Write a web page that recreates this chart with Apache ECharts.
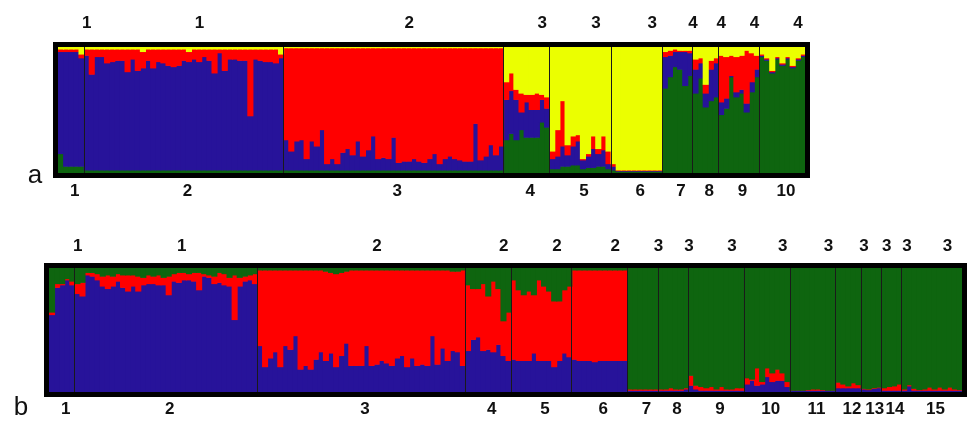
<!DOCTYPE html>
<html>
<head>
<meta charset="utf-8">
<script src="https://cdn.jsdelivr.net/npm/echarts@6/dist/echarts.min.js"></script>
<style>
  html, body { margin: 0; padding: 0; background: #fff; }
  #chart { width: 967px; height: 421px; }
</style>
</head>
<body>
<div id="chart"></div>
<script>
// panel a: individuals per sampling site, site labels, inferred cluster (K=4)
const popSizesA = [5, 39, 43, 9, 12, 10, 6, 5, 8, 9];
const popLabelsA = ['1', '2', '3', '4', '5', '6', '7', '8', '9', '10'];
const clusterLabelsA = ['1', '1', '2', '3', '3', '3', '4', '4', '4', '4'];

// membership (%) per individual, bottom to top: green, blue, red, yellow
const greenA = [
  15, 5, 5, 5, 5,
  2, 2, 2, 2, 2, 2, 2, 2, 2, 2, 2, 2, 2, 2, 2, 2, 2, 2, 2, 2, 2, 2, 2, 2, 2, 2, 2, 2, 2, 2, 2, 2, 2, 2, 2, 2, 2, 2, 2,
  2, 2, 2, 2, 2, 2, 2, 2, 2, 2, 2, 2, 2, 2, 2, 2, 2, 2, 2, 2, 2, 2, 2, 2, 2, 2, 2, 2, 2, 2, 2, 2, 2, 2, 2, 2, 2, 2, 2, 2, 2, 2, 2,
  26, 31, 26, 34, 28, 28, 28, 40, 36,
  3, 3, 5, 5, 6, 6, 3, 4, 4, 5, 5, 3,
  2, 1, 1, 1, 1, 1, 1, 1, 1, 1,
  67, 76, 84, 82, 69, 77,
  63, 75, 52, 57, 60,
  46, 51, 76, 60, 63, 48, 64, 76,
  92, 89, 79, 90, 85, 90, 83, 89, 92
];
const blueA = [
  81, 91, 91, 91, 86,
  91, 76, 90, 90, 85, 86, 87, 87, 78, 88, 79, 81, 87, 81, 86, 85, 83, 82, 83, 87, 86, 88, 86, 90, 87, 77, 93, 79, 88, 88, 87, 87, 43, 88, 87, 86, 86, 85, 89,
  24, 15, 23, 24, 9, 23, 19, 32, 5, 9, 5, 14, 17, 12, 23, 11, 16, 27, 9, 10, 9, 26, 6, 7, 7, 9, 7, 6, 9, 13, 5, 9, 11, 9, 8, 7, 7, 37, 8, 11, 20, 12, 19,
  32, 34, 32, 14, 28, 22, 22, 18, 15,
  8, 10, 16, 9, 15, 19, 7, 9, 15, 10, 13, 4,
  3, 0.5, 0.5, 0.5, 0.5, 0.5, 0.5, 0.5, 0.5, 0.5,
  25, 17, 12, 14, 27, 18,
  19, 12, 11, 25, 27,
  10, 8, 1, 4, 3, 7, 8, 6,
  1, 1, 1, 1, 1, 1, 1, 1, 1
];
const redA = [
  2, 2, 2, 2, 3,
  5, 20, 6, 6, 11, 10, 9, 9, 18, 8, 17, 13, 9, 15, 10, 11, 13, 14, 13, 9, 8, 8, 10, 6, 9, 19, 3, 17, 8, 8, 9, 9, 53, 8, 9, 10, 10, 11, 3,
  73, 82, 74, 73, 88, 74, 78, 65, 92, 88, 92, 83, 80, 85, 74, 86, 81, 70, 88, 87, 88, 71, 91, 90, 90, 88, 90, 91, 88, 84, 92, 88, 86, 88, 89, 90, 90, 60, 89, 86, 77, 85, 78,
  14, 14, 8, 15, 6, 12, 13, 4, 9,
  6, 21, 36, 8, 8, 5, 1, 2, 10, 4, 11, 10,
  2, 0.5, 0.5, 0.5, 0.5, 0.5, 0.5, 0.5, 0.5, 0.5,
  4, 4, 2, 1, 1, 2,
  8, 4, 7, 7, 4,
  37, 33, 16, 28, 27, 42, 23, 11,
  1, 1, 1, 1, 1, 1, 1, 1, 1
];
const yellowA = [
  2, 2, 2, 2, 6,
  2, 2, 2, 2, 2, 2, 2, 2, 2, 2, 2, 4, 2, 2, 2, 2, 2, 2, 2, 2, 4, 2, 2, 2, 2, 2, 2, 2, 2, 2, 2, 2, 2, 2, 2, 2, 2, 2, 6,
  1, 1, 1, 1, 1, 1, 1, 1, 1, 1, 1, 1, 1, 1, 1, 1, 1, 1, 1, 1, 1, 1, 1, 1, 1, 1, 1, 1, 1, 1, 1, 1, 1, 1, 1, 1, 1, 1, 1, 1, 1, 1, 1,
  28, 21, 34, 37, 38, 38, 37, 38, 40,
  83, 66, 43, 78, 71, 70, 89, 85, 71, 81, 71, 83,
  93, 98, 98, 98, 98, 98, 98, 98, 98, 98,
  4, 3, 2, 3, 3, 3,
  10, 9, 30, 11, 9,
  7, 8, 7, 8, 7, 3, 5, 7,
  6, 9, 19, 8, 13, 8, 15, 9, 6
];

// panel b: individuals per site, site labels, inferred cluster (K=3)
const popSizesB = [5, 36, 41, 9, 12, 11, 6, 6, 11, 9, 9, 5, 4, 4, 12];
const popLabelsB = ['1', '2', '3', '4', '5', '6', '7', '8', '9', '10', '11', '12', '13', '14', '15'];
const clusterLabelsB = ['1', '1', '2', '2', '2', '2', '3', '3', '3', '3', '3', '3', '3', '3', '3'];

// membership (%) per individual, bottom to top: blue, red, green
const blueB = [
  62, 84, 86, 90, 86,
  79, 77, 94, 93, 90, 85, 83, 85, 89, 84, 81, 85, 81, 86, 87, 87, 86, 86, 78, 89, 88, 90, 90, 89, 82, 93, 92, 87, 88, 86, 85, 58, 85, 89, 90, 87,
  37, 20, 27, 32, 20, 37, 34, 45, 18, 21, 18, 26, 32, 25, 31, 20, 29, 39, 21, 21, 21, 37, 21, 22, 25, 23, 21, 27, 29, 20, 27, 21, 22, 21, 45, 22, 35, 25, 33, 32, 21,
  33, 42, 44, 33, 34, 32, 38, 29, 25,
  26, 25, 25, 25, 31, 25, 25, 25, 20, 25, 31, 28,
  26, 25, 25, 25, 24, 25, 25, 25, 25, 25, 25,
  1, 1, 1, 1, 1, 1,
  1, 1, 1, 1, 1, 2,
  5, 2, 1, 1, 1, 1, 1, 1, 1, 1, 1,
  6, 9, 5, 6, 12, 8, 9, 9, 4,
  1, 1, 1, 1, 1, 1, 1, 1, 1,
  3, 3, 3, 3, 3,
  2, 1.5, 2.5, 3,
  1, 1, 1, 1,
  1, 4.5, 1, 1, 1, 1, 1, 1, 1, 1, 1, 1
];
const redB = [
  2, 3, 1, 1, 3,
  8, 11, 2, 3, 5, 8, 11, 8, 6, 10, 13, 9, 12, 6, 7, 6, 8, 6, 15, 6, 8, 6, 5, 7, 14, 2, 2, 6, 8, 9, 7, 36, 7, 4, 4, 8,
  61, 78, 71, 66, 78, 61, 64, 53, 80, 77, 80, 72, 66, 72, 65, 75, 67, 58, 77, 77, 77, 61, 77, 76, 73, 75, 77, 71, 69, 78, 71, 77, 76, 77, 53, 76, 63, 73, 64, 65, 77,
  53, 41, 39, 54, 43, 57, 45, 28, 39,
  64, 57, 53, 56, 47, 65, 60, 56, 53, 48, 51, 57,
  72, 73, 73, 73, 74, 73, 73, 73, 73, 73, 73,
  1, 1, 1, 1, 1, 1,
  1, 1, 2, 1, 1, 1,
  8, 3, 3, 2, 3, 1, 3, 1, 1, 2, 2,
  5, 1, 14, 2, 7, 7, 9, 6, 4,
  0, 0, 0, 0.5, 1, 1, 0.5, 0, 0,
  4.5, 3, 1.5, 4, 2.5,
  0.5, 0.5, 0.5, 0.5,
  2, 3, 3.5, 5,
  1, 1, 1.5, 0.5, 1, 2.5, 1, 2.5, 1, 2.5, 1, 0.5
];
const greenB = [
  36, 13, 13, 9, 11,
  13, 12, 4, 4, 5, 7, 6, 7, 5, 6, 6, 6, 7, 8, 6, 7, 6, 8, 7, 5, 4, 4, 5, 4, 4, 5, 6, 7, 4, 5, 8, 6, 8, 7, 6, 5,
  2, 2, 2, 2, 2, 2, 2, 2, 2, 2, 2, 2, 2, 3, 4, 5, 4, 3, 2, 2, 2, 2, 2, 2, 2, 2, 2, 2, 2, 2, 2, 2, 2, 2, 2, 2, 2, 2, 3, 3, 2,
  14, 17, 17, 13, 23, 11, 17, 43, 36,
  10, 18, 22, 19, 22, 10, 15, 19, 27, 27, 18, 15,
  2, 2, 2, 2, 2, 2, 2, 2, 2, 2, 2,
  98, 98, 98, 98, 98, 98,
  98, 98, 97, 98, 98, 97,
  87, 95, 96, 97, 96, 98, 96, 98, 98, 97, 97,
  89, 90, 81, 92, 81, 85, 82, 85, 92,
  99, 99, 99, 98.5, 98, 98, 98.5, 99, 99,
  92.5, 94, 95.5, 93, 94.5,
  97.5, 98, 97, 96.5,
  97, 96, 95.5, 94,
  98, 94.5, 97.5, 98.5, 98, 96.5, 98, 96.5, 98, 96.5, 98, 98.5
];

const GREEN = '#0e650f', BLUE = '#27139a', RED = '#ff0000', YELLOW = '#ebff00';
const FONT = '"Liberation Sans", Arial, sans-serif';

const gridA = { left: 58, top: 47, width: 747, height: 126 };
const gridB = { left: 49, top: 268, width: 913, height: 124 };

const makeCats = (sizes, labels) => {
  const out = [];
  sizes.forEach((n, p) => { for (let i = 0; i < n; i++) out.push(labels[p] + '_' + (i + 1)); });
  return out;
};

// stacked membership bars as custom rects: [individual, base, share]
// each rect is a hair wider/taller than its cell so no white seams show between neighbours
const stackSeries = (layers, colors, axis) => layers.map((vals, k) => ({
  type: 'custom',
  xAxisIndex: axis,
  yAxisIndex: axis,
  silent: true,
  encode: { x: 0, y: 1 },
  data: vals.map((v, i) => [i, layers.slice(0, k).reduce((s, L) => s + L[i], 0), v]),
  renderItem: (params, api) => {
    const i = api.value(0), lo = api.value(1), hi = lo + api.value(2);
    const p0 = api.coord([i, lo]);
    const p1 = api.coord([i, hi]);
    const w = api.size([1, 0])[0];
    return {
      type: 'rect',
      shape: { x: p0[0] - w / 2, y: p1[1] - 0.6, width: w + 1, height: p0[1] - p1[1] + 0.6 },
      style: { fill: colors[k] }
    };
  }
}));

const hiddenX = (data, gridIndex) => ({
  type: 'category', gridIndex: gridIndex, data: data,
  axisLine: { show: false }, axisTick: { show: false }, axisLabel: { show: false }, splitLine: { show: false }
});
const hiddenY = (gridIndex) => ({
  type: 'value', gridIndex: gridIndex, min: 0, max: 100,
  axisLine: { show: false }, axisTick: { show: false }, axisLabel: { show: false }, splitLine: { show: false }
});

const chart = echarts.init(document.getElementById('chart'), null, { renderer: 'canvas' });

chart.setOption({
  animation: false,
  backgroundColor: '#fff',
  grid: [gridA, gridB],
  xAxis: [hiddenX(makeCats(popSizesA, popLabelsA), 0), hiddenX(makeCats(popSizesB, popLabelsB), 1)],
  yAxis: [hiddenY(0), hiddenY(1)],
  series: [
    ...stackSeries([greenA, blueA, redA, yellowA], [GREEN, BLUE, RED, YELLOW], 0),
    ...stackSeries([blueB, redB, greenB], [BLUE, RED, GREEN], 1)
  ]
});

// frames, site separators and labels, placed from the category axes
const panelGraphics = (axis, grid, sizes, popLabels, clusterLabels, topY, bottomY) => {
  const px = (i) => chart.convertToPixel({ xAxisIndex: axis }, i);
  const els = [];
  let start = 0;
  sizes.forEach((n, p) => {
    const center = (px(start) + px(start + n - 1)) / 2;
    if (start > 0) {
      const x = Math.round((px(start - 1) + px(start)) / 2) + 0.5;
      els.push({ type: 'line', z: 50, shape: { x1: x, y1: grid.top, x2: x, y2: grid.top + grid.height },
        style: { stroke: '#1a1a1a', lineWidth: 1 } });
    }
    els.push({ type: 'text', z: 50, x: center + 16, y: topY,
      style: { text: clusterLabels[p], font: 'bold 17px ' + FONT, fill: '#111', textAlign: 'center', textVerticalAlign: 'middle', align: 'center', verticalAlign: 'middle' } });
    els.push({ type: 'text', z: 50, x: center + 4, y: bottomY,
      style: { text: popLabels[p], font: 'bold 17px ' + FONT, fill: '#111', textAlign: 'center', textVerticalAlign: 'middle', align: 'center', verticalAlign: 'middle' } });
    start += n;
  });
  els.push({ type: 'rect', z: 60,
    shape: { x: grid.left - 2.5, y: grid.top - 2.5, width: grid.width + 5, height: grid.height + 5 },
    style: { fill: null, stroke: '#000', lineWidth: 5 } });
  return els;
};

chart.setOption({
  graphic: [
    ...panelGraphics(0, gridA, popSizesA, popLabelsA, clusterLabelsA, 23, 191),
    ...panelGraphics(1, gridB, popSizesB, popLabelsB, clusterLabelsB, 246, 409),
    { type: 'text', z: 50, x: 35, y: 176,
      style: { text: 'a', font: '26px ' + FONT, fill: '#111', textAlign: 'center', textVerticalAlign: 'middle', align: 'center', verticalAlign: 'middle' } },
    { type: 'text', z: 50, x: 21, y: 408,
      style: { text: 'b', font: '26px ' + FONT, fill: '#111', textAlign: 'center', textVerticalAlign: 'middle', align: 'center', verticalAlign: 'middle' } }
  ]
});
</script>
</body>
</html>
